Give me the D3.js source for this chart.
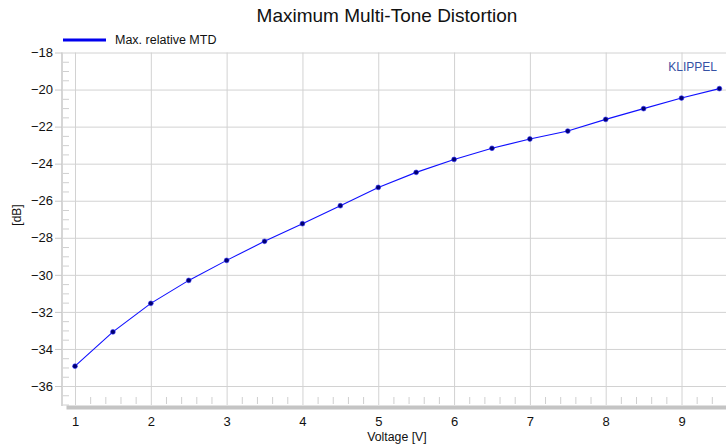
<!DOCTYPE html>
<html>
<head>
<meta charset="utf-8">
<script src="https://cdn.jsdelivr.net/npm/d3@7.9.0/dist/d3.min.js"></script>
<style>
  body { margin: 0; background: #fff; }
  text { font-family: "Liberation Sans", Arial, sans-serif; }
</style>
</head>
<body>
<svg id="chart" width="726" height="446"></svg>
<script>
// measured values
const voltages = [1, 1.5, 2, 2.5, 3, 3.5, 4, 4.5, 5, 5.5, 6, 6.5, 7, 7.5, 8, 8.5, 9, 9.5];
const maxRelativeMtd = [-34.93, -33.08, -31.54, -30.30, -29.22, -28.19, -27.24, -26.27, -25.28,
  -24.47, -23.77, -23.17, -22.67, -22.24, -21.61, -21.03, -20.46, -19.95];
const xTicks = [1, 2, 3, 4, 5, 6, 7, 8, 9];
const yTicks = [-18, -20, -22, -24, -26, -28, -30, -32, -34, -36];

const svg = d3.select('#chart');
const plotLeft = 62, plotRight = 726, plotTop = 52.5, plotBottom = 405;

const x = d3.scaleLinear().domain([1, 9]).range([75, 681.5]);
const y = d3.scaleLinear().domain([-36, -18]).range([386, plotTop]);

const xMinor = d3.range(1, 9.6, 0.2).map(v => +v.toFixed(1)).filter(v => !Number.isInteger(v) && x(v) < plotRight);
const yMinor = d3.range(-37, -18, 0.5).filter(v => v % 2 !== 0);

// horizontal grid
svg.append('g')
  .attr('transform', `translate(${plotLeft},0)`)
  .call(d3.axisRight(y).tickValues(yTicks).tickSize(plotRight - plotLeft).tickFormat(''))
  .call(g => g.select('.domain').remove())
  .call(g => g.selectAll('line').attr('stroke', '#d2d2d2'));

// vertical grid
svg.append('g')
  .attr('transform', `translate(0,${plotBottom})`)
  .call(d3.axisTop(x).tickValues(xTicks).tickSize(plotBottom - plotTop).tickFormat(''))
  .call(g => g.select('.domain').remove())
  .call(g => g.selectAll('line').attr('stroke', '#d2d2d2'));

// minor ticks
svg.append('g')
  .attr('transform', `translate(${plotLeft + 1},0)`)
  .call(d3.axisRight(y).tickValues(yMinor).tickSize(6).tickFormat(''))
  .call(g => g.select('.domain').remove())
  .call(g => g.selectAll('line').attr('stroke', '#cfcfcf'));

svg.append('g')
  .attr('transform', `translate(0,${plotBottom - 1})`)
  .call(d3.axisTop(x).tickValues(xMinor).tickSize(7).tickFormat(''))
  .call(g => g.select('.domain').remove())
  .call(g => g.selectAll('line').attr('stroke', '#cfcfcf'));

// frame
svg.append('line')
  .attr('x1', plotLeft).attr('x2', plotLeft)
  .attr('y1', plotTop).attr('y2', plotBottom + 1)
  .attr('stroke', '#d6d6d6').attr('stroke-width', 2);
svg.append('rect')
  .attr('x', 66.5).attr('y', plotBottom + 0.5)
  .attr('width', plotRight - 66.5).attr('height', 4)
  .attr('fill', '#c4c4c4');

// y axis labels
svg.append('g')
  .attr('transform', `translate(${plotLeft},0)`)
  .call(d3.axisLeft(y).tickValues(yTicks).tickSize(7).tickPadding(2).tickFormat(d3.format('d')))
  .call(g => g.select('.domain').remove())
  .call(g => g.selectAll('line').attr('stroke', '#c8c8c8'))
  .call(g => g.selectAll('text').attr('fill', '#111').attr('font-size', 13)
    .attr('font-family', '"Liberation Sans", Arial, sans-serif'));

// x axis labels
svg.append('g')
  .attr('transform', `translate(0,${plotBottom + 4.5})`)
  .call(d3.axisBottom(x).tickValues(xTicks).tickSize(0).tickPadding(7).tickFormat(d3.format('d')))
  .call(g => g.select('.domain').remove())
  .call(g => g.selectAll('text').attr('fill', '#111').attr('font-size', 13)
    .attr('font-family', '"Liberation Sans", Arial, sans-serif'));

// axis titles
svg.append('text')
  .attr('x', 397).attr('y', 441)
  .attr('text-anchor', 'middle').attr('font-size', 12.3).attr('fill', '#111')
  .text('Voltage [V]');
svg.append('text')
  .attr('transform', 'translate(21,215) rotate(-90)')
  .attr('text-anchor', 'middle').attr('font-size', 12).attr('fill', '#111')
  .text('[dB]');

// title
svg.append('text')
  .attr('x', 387).attr('y', 21.5)
  .attr('text-anchor', 'middle').attr('font-size', 19).attr('fill', '#111')
  .text('Maximum Multi-Tone Distortion');

// legend
svg.append('line')
  .attr('x1', 63).attr('x2', 106).attr('y1', 40).attr('y2', 40)
  .attr('stroke', '#0000ee').attr('stroke-width', 3);
svg.append('text')
  .attr('x', 115).attr('y', 44)
  .attr('font-size', 12.5).attr('fill', '#111')
  .text('Max. relative MTD');

// KLIPPEL mark
svg.append('text')
  .attr('x', 717).attr('y', 71)
  .attr('text-anchor', 'end').attr('font-size', 12).attr('fill', '#3552a4')
  .text('KLIPPEL');

// series
const data = voltages.map((v, i) => ({ v, db: maxRelativeMtd[i] }));
svg.append('path')
  .datum(data)
  .attr('fill', 'none')
  .attr('stroke', '#1010ff')
  .attr('stroke-width', 1.1)
  .attr('d', d3.line().x(d => x(d.v)).y(d => y(d.db)));

svg.append('g')
  .selectAll('circle')
  .data(data)
  .join('circle')
  .attr('cx', d => x(d.v))
  .attr('cy', d => y(d.db))
  .attr('r', 2.4)
  .attr('fill', '#000070')
  .attr('stroke', '#2a2aff')
  .attr('stroke-width', 0.6);
</script>
</body>
</html>
